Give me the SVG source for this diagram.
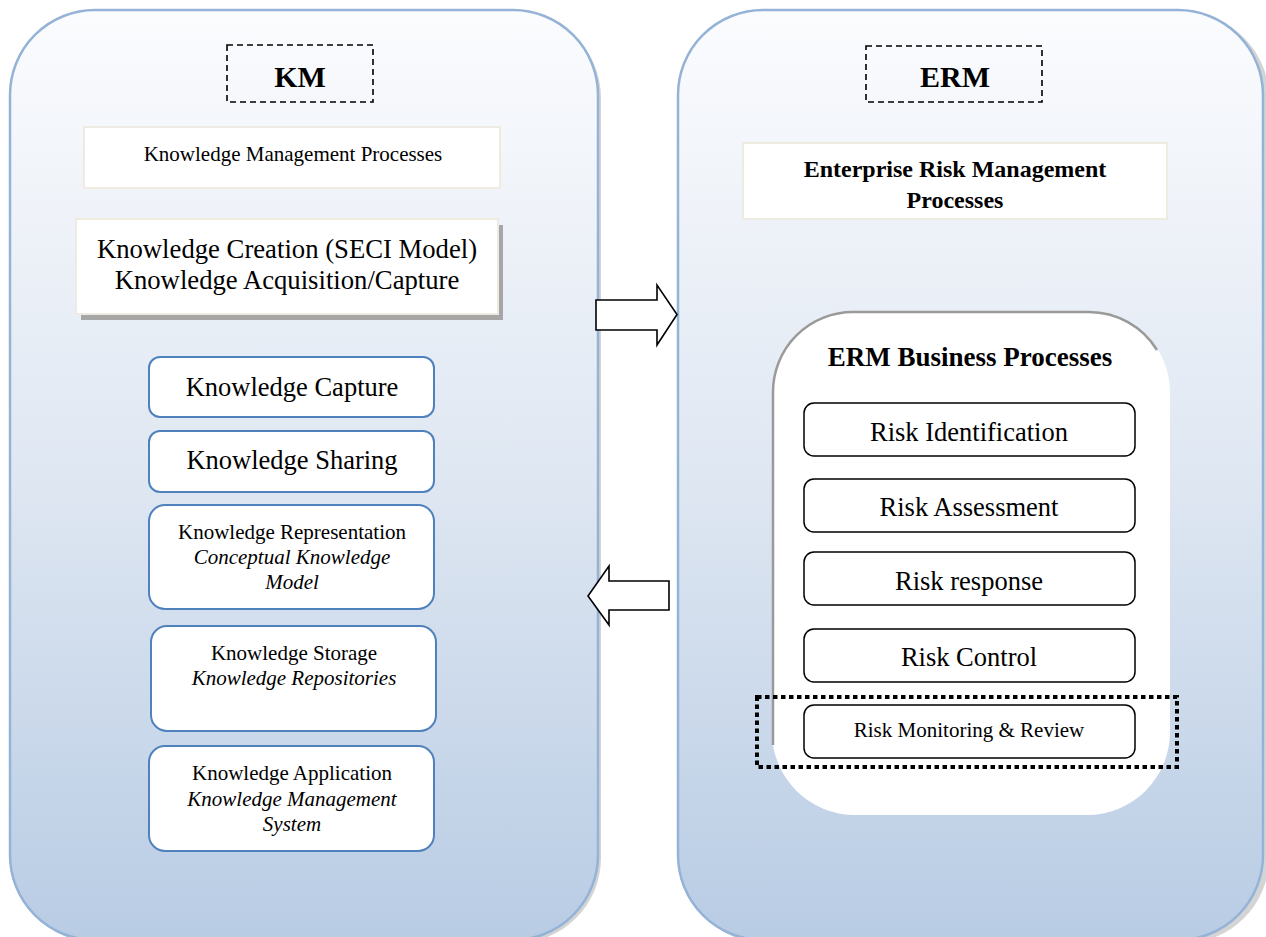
<svg xmlns="http://www.w3.org/2000/svg" width="1266" height="937" viewBox="0 0 1266 937">
  <defs>
    <linearGradient id="panelFill" x1="0" y1="0" x2="0" y2="1">
      <stop offset="0" stop-color="#fbfcfe"/>
      <stop offset="0.5" stop-color="#dfe7f2"/>
      <stop offset="1" stop-color="#b8cce4"/>
    </linearGradient>
    <path id="panelShape" d="M85,0 h418 a85,85 0 0 1 85,85 v760 a85,85 0 0 1 -85,85 h-418 a85,85 0 0 1 -85,-85 v-760 a85,85 0 0 1 85,-85 z"/>
    <style>
      .panel { fill: url(#panelFill); stroke: #95b3d7; stroke-width: 2.5; }
      .shadow { fill: #d4d4d4; }
      .tag { fill: none; stroke: #000; stroke-width: 1.6; stroke-dasharray: 6 4; }
      .plain { fill: #fff; stroke: #eeece1; stroke-width: 2; }
      .kbox { fill: #fff; stroke: #4f81bd; stroke-width: 2; }
      .rbox { fill: #fff; stroke: #000; stroke-width: 1.5; }
      .arrow { fill: #fff; stroke: #000; stroke-width: 1.6; stroke-linejoin: miter; }
      text { font-family: "Liberation Serif", "Times New Roman", serif; fill: #000; text-anchor: middle; }
      .b { font-weight: bold; }
      .i { font-style: italic; }
      .big { font-size: 26.5px; }
      .small { font-size: 21px; }
    </style>
  </defs>

  <rect width="1266" height="937" fill="#fff"/>

  <!-- Knowledge management panel -->
  <g id="km-panel">
    <use href="#panelShape" class="shadow" x="13" y="13"/>
    <use href="#panelShape" class="panel" x="10" y="10"/>
  </g>

  <!-- Enterprise risk management panel -->
  <g id="erm-panel">
    <use href="#panelShape" class="shadow" x="681" y="13"/>
    <path class="panel" d="M763,10 h415 a85,85 0 0 1 85,85 v760 a85,85 0 0 1 -85,85 h-415 a85,85 0 0 1 -85,-85 v-760 a85,85 0 0 1 85,-85 z"/>
  </g>

  <g id="km-tag">
    <rect class="tag" x="227" y="45" width="146" height="57"/>
    <text class="b" x="300" y="87" font-size="30">KM</text>
  </g>

  <g id="km-processes">
    <rect class="plain" x="84" y="127" width="416" height="61"/>
    <text class="small" x="293" y="161">Knowledge Management Processes</text>
  </g>

  <g id="km-creation">
    <rect x="81" y="225" width="422" height="95" fill="#a6a6a6"/>
    <rect class="plain" x="76" y="219" width="422" height="95"/>
    <text x="287" y="258" font-size="26.7">Knowledge Creation (SECI Model)</text>
    <text x="287" y="289" font-size="26.7">Knowledge Acquisition/Capture</text>
  </g>

  <g id="km-capture">
    <rect class="kbox" x="149" y="357" width="285" height="60" rx="11"/>
    <text class="big" x="292" y="396">Knowledge Capture</text>
  </g>

  <g id="km-sharing">
    <rect class="kbox" x="149" y="431" width="285" height="61" rx="11"/>
    <text class="big" x="292" y="469">Knowledge Sharing</text>
  </g>

  <g id="km-representation">
    <rect class="kbox" x="149" y="505" width="285" height="104" rx="16"/>
    <text class="small" x="292" y="539">Knowledge Representation</text>
    <text class="small i" x="292" y="564">Conceptual Knowledge</text>
    <text class="small i" x="292" y="589">Model</text>
  </g>

  <g id="km-storage">
    <rect class="kbox" x="151" y="626" width="285" height="105" rx="16"/>
    <text class="small" x="294" y="660">Knowledge Storage</text>
    <text class="small i" x="294" y="685">Knowledge Repositories</text>
  </g>

  <g id="km-application">
    <rect class="kbox" x="149" y="746" width="285" height="105" rx="16"/>
    <text class="small" x="292" y="780">Knowledge Application</text>
    <text class="small i" x="292" y="806">Knowledge Management</text>
    <text class="small i" x="292" y="831">System</text>
  </g>

  <g id="erm-tag">
    <rect class="tag" x="866" y="46" width="176" height="56"/>
    <text class="b" x="955" y="87" font-size="30">ERM</text>
  </g>

  <g id="erm-processes">
    <rect class="plain" x="743" y="143" width="424" height="76"/>
    <text class="b" x="955" y="177" font-size="24">Enterprise Risk Management</text>
    <text class="b" x="955" y="208" font-size="24">Processes</text>
  </g>

  <g id="erm-business">
    <path d="M852,312 h238 a80,80 0 0 1 80,80 v340 a83,83 0 0 1 -83,83 h-232 a83,83 0 0 1 -83,-83 v-340 a80,80 0 0 1 80,-80 z" fill="#fff"/>
    <path d="M773,745 v-353 a80,80 0 0 1 80,-80 h236 a80,80 0 0 1 68,38" fill="none" stroke="#9a9a9a" stroke-width="2.5"/>
    <text class="b" x="970" y="366" font-size="27">ERM Business Processes</text>
  </g>

  <g id="risk-identification">
    <rect class="rbox" x="804" y="403" width="331" height="53" rx="10"/>
    <text class="big" x="969" y="441">Risk Identification</text>
  </g>

  <g id="risk-assessment">
    <rect class="rbox" x="804" y="479" width="331" height="53" rx="10"/>
    <text class="big" x="969" y="516">Risk Assessment</text>
  </g>

  <g id="risk-response">
    <rect class="rbox" x="804" y="552" width="331" height="53" rx="10"/>
    <text class="big" x="969" y="590">Risk response</text>
  </g>

  <g id="risk-control">
    <rect class="rbox" x="804" y="629" width="331" height="53" rx="10"/>
    <text class="big" x="969" y="666">Risk Control</text>
  </g>

  <g id="risk-monitoring">
    <rect class="rbox" x="804" y="705" width="331" height="53" rx="10"/>
    <text class="small" x="969" y="737">Risk Monitoring &amp; Review</text>
    <rect x="757" y="697" width="420" height="70" fill="none" stroke="#000" stroke-width="4" stroke-dasharray="4.5 3.5"/>
  </g>

  <g id="connectors">
    <polygon class="arrow" points="596,300 657,300 657,285 677,314.5 657,345 657,330 596,330"/>
    <polygon class="arrow" points="669,581 609,581 609,566 588,596 609,625 609,610 669,610"/>
  </g>
</svg>
